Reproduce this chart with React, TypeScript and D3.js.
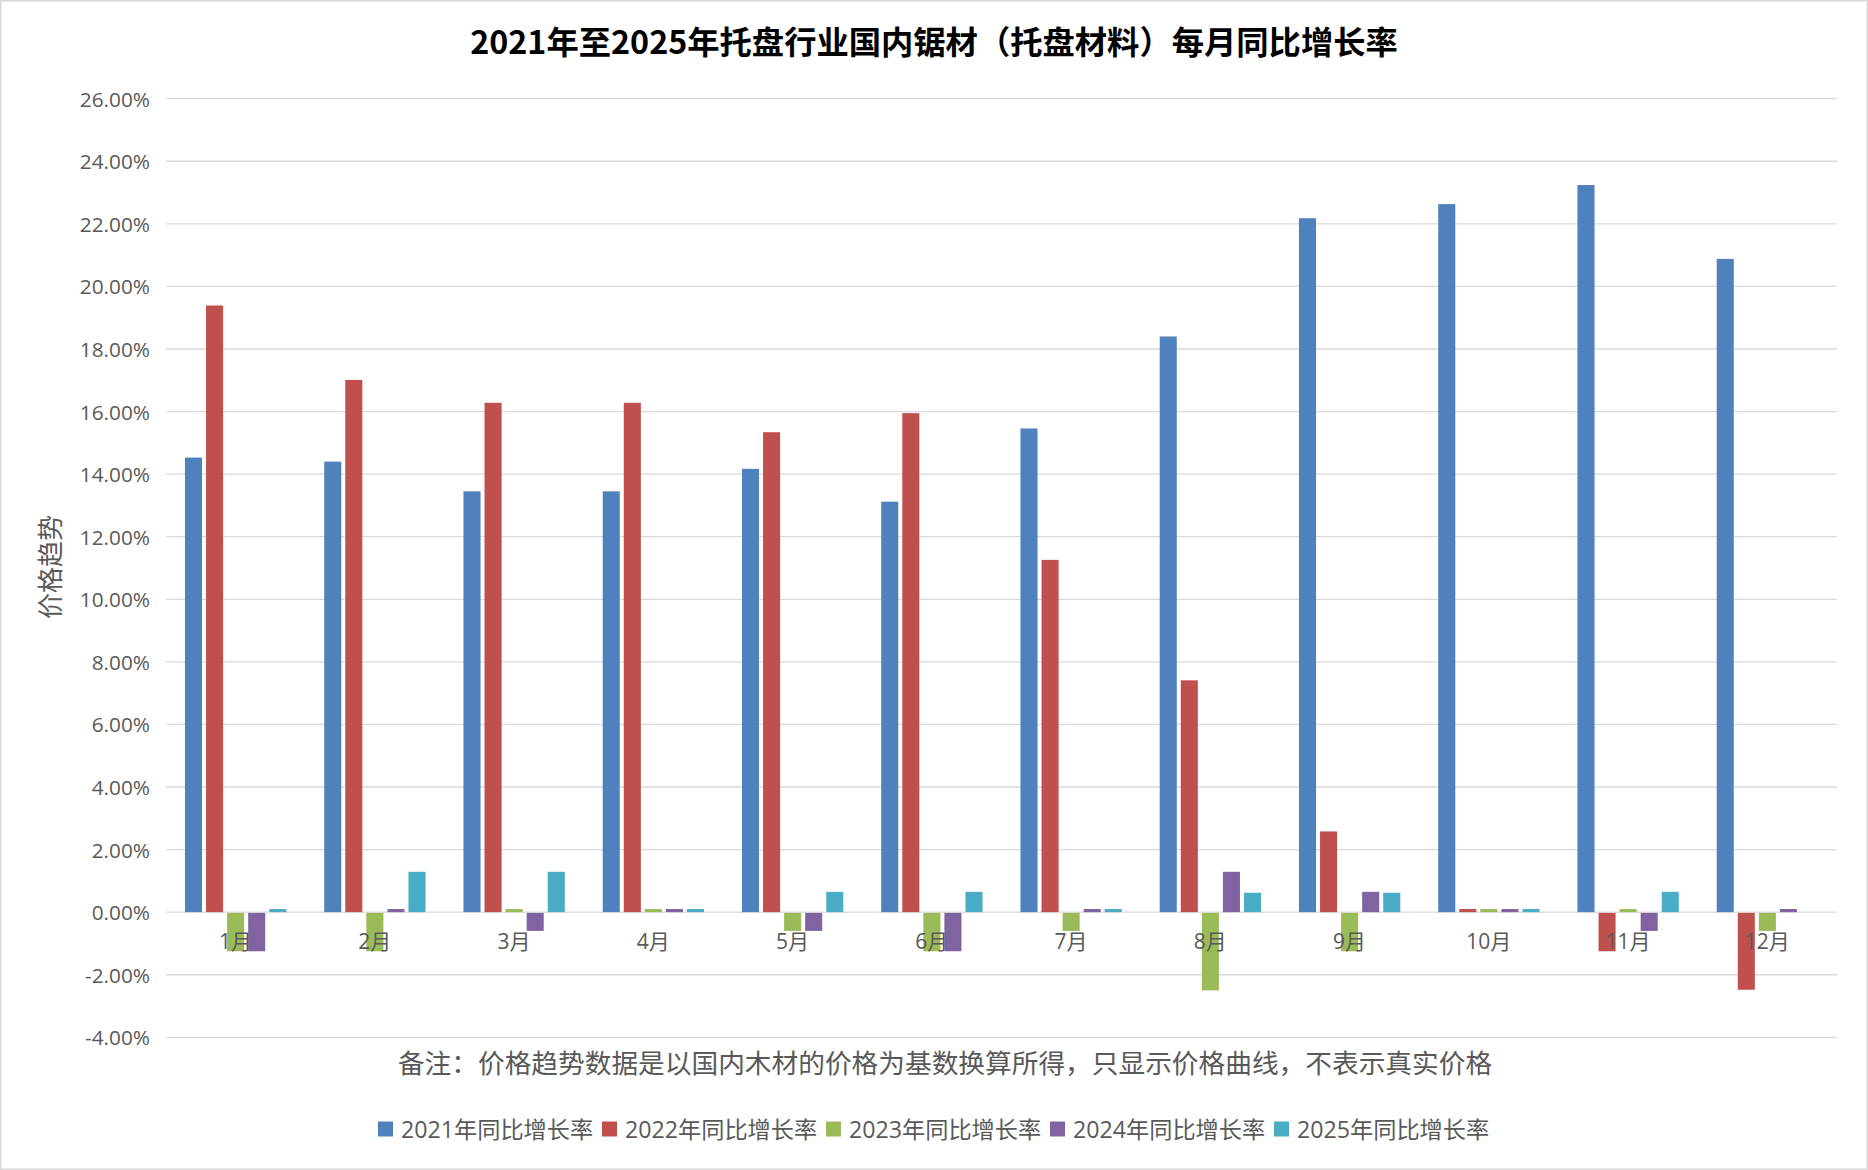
import React from 'react';
import * as d3 from 'd3';

const months = ['1月', '2月', '3月', '4月', '5月', '6月', '7月', '8月', '9月', '10月', '11月', '12月'];
const seriesNames = ['2021年同比增长率', '2022年同比增长率', '2023年同比增长率', '2024年同比增长率', '2025年同比增长率'];
const seriesColors = ['#4F81BD', '#C0504D', '#9BBB59', '#8064A2', '#4BACC6'];

const s2021 = [14.53, 14.4, 13.45, 13.45, 14.17, 13.12, 15.46, 18.4, 22.18, 22.63, 23.24, 20.88];
const s2022 = [19.39, 17.01, 16.28, 16.28, 15.34, 15.95, 11.26, 7.41, 2.58, 0.1, -1.25, -2.48];
const s2023 = [-1.25, -1.25, 0.1, 0.1, -0.6, -1.25, -0.6, -2.5, -1.25, 0.1, 0.1, -0.6];
const s2024 = [-1.25, 0.1, -0.6, 0.1, -0.6, -1.25, 0.1, 1.29, 0.65, 0.1, -0.6, 0.1];
const s2025: (number | null)[] = [0.1, 1.29, 1.29, 0.1, 0.65, 0.65, 0.1, 0.62, 0.62, 0.1, 0.65, null];

const yTicks = [-4, -2, 0, 2, 4, 6, 8, 10, 12, 14, 16, 18, 20, 22, 24, 26];

const titleText = '2021年至2025年托盘行业国内锯材（托盘材料）每月同比增长率';
const yTitle = '价格趋势';
const noteText = '备注：价格趋势数据是以国内木材的价格为基数换算所得，只显示价格曲线，不表示真实价格';

const W = 1868;
const H = 1170;
const FONT = "'Open Sans', 'Noto Sans CJK SC', sans-serif";
const TEXT = '#595959';

export default function App() {
  const allSeries = [s2021, s2022, s2023, s2024, s2025];
  const x = d3.scaleBand<string>().domain(months).range([166, 1837]).padding(0);
  const inner = d3
    .scaleBand<string>()
    .domain(seriesNames)
    .range([0, x.bandwidth()])
    .paddingInner(0.19)
    .paddingOuter(0.9);
  const y = d3.scaleLinear().domain([-4, 26]).range([1037.3, 98.7]);
  const fmt = (v: number) => v.toFixed(2) + '%';

  return (
    <svg
      width={W}
      height={H}
      style={{ position: 'absolute', left: 0, top: 0, display: 'block', background: '#fff' }}
      fontFamily={FONT}
    >
      <rect x={0.75} y={0.75} width={W - 1.5} height={H - 1.5} fill="#fff" stroke="#d9d9d9" strokeWidth={1.5} />
      <text
        x={934}
        y={39.5}
        textAnchor="middle"
        dominantBaseline="central"
        fontSize={32.3}
        fontWeight="bold"
        fill="#000"
        fontFamily="'Noto Sans CJK SC', sans-serif"
      >
        {titleText}
      </text>

      {yTicks.map((t) => (
        <g key={t}>
          <line x1={166} x2={1837} y1={y(t)} y2={y(t)} stroke="#d9d9d9" strokeWidth={1.3} />
          <text x={150} y={y(t)} textAnchor="end" dominantBaseline="central" fontSize={20.8} fill={TEXT}>
            {fmt(t)}
          </text>
        </g>
      ))}

      <text
        transform={`translate(50,567) rotate(-90)`}
        textAnchor="middle"
        dominantBaseline="central"
        fontSize={26}
        fill={TEXT}
      >
        {yTitle}
      </text>

      {months.map((m, i) => (
        <g key={m}>
          {allSeries.map((s, si) => {
            const v = s[i];
            if (v === null || v === undefined) return null;
            const bx = (x(m) as number) + (inner(seriesNames[si]) as number);
            const y0 = y(0);
            const yv = y(v);
            return (
              <rect
                key={si}
                x={bx}
                width={inner.bandwidth()}
                y={v >= 0 ? yv : y0 + 0.7}
                height={v >= 0 ? y0 - yv : yv - y0 - 0.7}
                fill={seriesColors[si]}
              />
            );
          })}
        </g>
      ))}

      {months.map((m) => (
        <text
          key={'l' + m}
          x={(x(m) as number) + x.bandwidth() / 2}
          y={941}
          textAnchor="middle"
          dominantBaseline="central"
          fontSize={21}
          fill={TEXT}
        >
          {m}
        </text>
      ))}

      <text x={945} y={1062} textAnchor="middle" dominantBaseline="central" fontSize={26.7} fill={TEXT}>
        {noteText}
      </text>

      {seriesNames.map((n, i) => {
        const lx = 378 + 224 * i;
        return (
          <g key={n}>
            <rect x={lx} y={1129 - 7.5} width={15} height={15} fill={seriesColors[i]} />
            <text x={lx + 23} y={1129} dominantBaseline="central" fontSize={23.2} fill={TEXT}>
              {n}
            </text>
          </g>
        );
      })}
    </svg>
  );
}
